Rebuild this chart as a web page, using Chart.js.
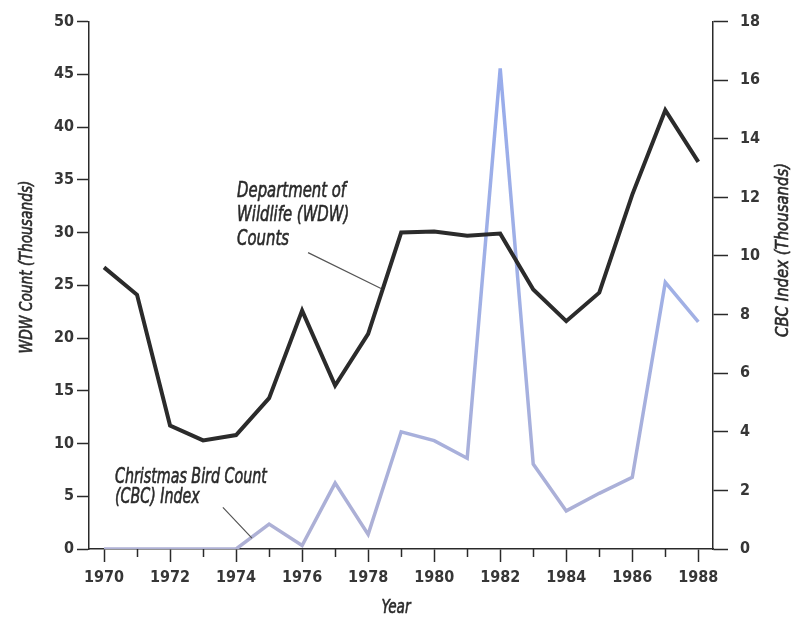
<!DOCTYPE html>
<html>
<head>
<meta charset="utf-8">
<script src="https://cdn.jsdelivr.net/npm/chart.js@4.4.1/dist/chart.umd.min.js"></script>
<style>
  html, body { margin: 0; padding: 0; background: #fff; }
  #wrap { width: 793px; height: 622px; position: relative; }
</style>
</head>
<body>
<div id="wrap"><canvas id="c"></canvas></div>
<script>
// Survey years
const years = [1970, 1971, 1972, 1973, 1974, 1975, 1976, 1977, 1978, 1979,
               1980, 1981, 1982, 1983, 1984, 1985, 1986, 1987, 1988];
// Department of Wildlife counts, thousands (left axis)
const wdwCounts = [26.7, 24.1, 11.7, 10.3, 10.8, 14.3, 22.6, 15.5, 20.4, 30.0,
                   30.1, 29.7, 29.9, 24.6, 21.6, 24.3, 33.6, 41.6, 36.7];
// Christmas Bird Count index, thousands (right axis)
const cbcIndex = [0, 0, 0, 0, 0, 0.85, 0.12, 2.25, 0.5, 4.0,
                  3.7, 3.1, 16.4, 2.9, 1.3, 1.9, 2.45, 9.1, 7.75];
// Axis tick values
const wdwTicks = [0, 5, 10, 15, 20, 25, 30, 35, 40, 45, 50];
const cbcTicks = [0, 2, 4, 6, 8, 10, 12, 14, 16, 18];
const labelledYears = [1970, 1972, 1974, 1976, 1978, 1980, 1982, 1984, 1986, 1988];

const INK = '#2a2a2a';
const NARROW = "'Noto Sans ExtraCondensed', 'Noto Sans Condensed', 'Liberation Sans Narrow', 'DejaVu Sans Condensed', 'Liberation Sans', sans-serif";
const TICK_FONT = { family: NARROW, size: 16, weight: '600' };

// Draw a line of text squeezed horizontally by factor sx, with a light
// outline to give a medium weight
function squeezedText(ctx, text, x, y, font, sx, rot) {
  ctx.save();
  ctx.font = font;
  ctx.translate(x, y);
  if (rot) ctx.rotate(rot);
  ctx.scale(sx, 1);
  ctx.fillText(text, 0, 0);
  ctx.lineWidth = 0.6;
  ctx.strokeText(text, 0, 0);
  ctx.restore();
}
function scaleFor(ctx, text, font, width) {
  ctx.save();
  ctx.font = font;
  const w = ctx.measureText(text).width;
  ctx.restore();
  return width / w;
}

// Callouts, axis titles and the short odd-year ticks
const notesPlugin = {
  id: 'notes',
  afterDraw(chart) {
    const { ctx, scales } = chart;
    const x = scales.x, yL = scales.y, yR = scales.y1;
    ctx.save();
    ctx.fillStyle = INK;
    ctx.strokeStyle = INK;

    // short ticks for odd years
    ctx.lineWidth = 1.5;
    years.filter(v => v % 2 === 1).forEach(v => {
      const px = Math.round(x.getPixelForValue(v)) + 0.5;
      ctx.beginPath();
      ctx.moveTo(px, x.top);
      ctx.lineTo(px, x.top + 8);
      ctx.stroke();
    });

    // leader lines
    ctx.strokeStyle = '#555';
    ctx.lineWidth = 1.2;
    ctx.beginPath();
    ctx.moveTo(x.getPixelForValue(1976.18), yL.getPixelForValue(28.1));
    ctx.lineTo(x.getPixelForValue(1978.39), yL.getPixelForValue(24.7));
    ctx.moveTo(x.getPixelForValue(1973.6), yR.getPixelForValue(1.42));
    ctx.lineTo(x.getPixelForValue(1974.48), yR.getPixelForValue(0.37));
    ctx.stroke();
    ctx.strokeStyle = INK;

    // callout text
    ctx.textAlign = 'left';
    ctx.textBaseline = 'alphabetic';
    const noteFont = 'italic 22px ' + NARROW;
    const wdwLines = ['Department of', 'Wildlife (WDW)', 'Counts'];
    let sx = scaleFor(ctx, wdwLines[0], noteFont, 109);
    let lx = x.getPixelForValue(1974.03), ly = yL.getPixelForValue(33.4);
    wdwLines.forEach((t, i) => squeezedText(ctx, t, lx, ly + i * 24, noteFont, sx));

    const cbcLines = ['Christmas Bird Count', '(CBC) Index'];
    sx = scaleFor(ctx, cbcLines[0], noteFont, 152);
    lx = x.getPixelForValue(1970.33); ly = yR.getPixelForValue(2.26);
    cbcLines.forEach((t, i) => squeezedText(ctx, t, lx, ly + i * 20, noteFont, sx));

    // axis titles
    ctx.textAlign = 'center';
    ctx.textBaseline = 'middle';
    const titleFont = 'italic 18px ' + NARROW;
    const tL = 'WDW Count (Thousands)';
    squeezedText(ctx, tL, 27, 267, titleFont, scaleFor(ctx, tL, titleFont, 173), -Math.PI / 2);
    const tR = 'CBC Index (Thousands)';
    squeezedText(ctx, tR, 783, 250, titleFont, scaleFor(ctx, tR, titleFont, 174), -Math.PI / 2);
    const yearFont = 'italic 20px ' + NARROW;
    squeezedText(ctx, 'Year', 396, 608, yearFont, scaleFor(ctx, 'Year', yearFont, 29));
    ctx.restore();
  }
};

const axisBorder = { color: INK, width: 1.5 };

new Chart(document.getElementById('c'), {
  type: 'line',
  data: {
    datasets: [
      {
        label: 'Department of Wildlife (WDW) Counts',
        data: years.map((yr, i) => ({ x: yr, y: wdwCounts[i] })),
        yAxisID: 'y',
        borderColor: '#2b2b2b',
        borderWidth: 4,
        borderJoinStyle: 'miter',
        pointRadius: 0,
        tension: 0,
        order: 1
      },
      {
        label: 'Christmas Bird Count (CBC) Index',
        data: years.map((yr, i) => ({ x: yr, y: cbcIndex[i] })),
        yAxisID: 'y1',
        borderColor(context) {
          const a = context.chart.chartArea;
          if (!a) return '#a6b2e2';
          const g = context.chart.ctx.createLinearGradient(0, a.bottom, 0, a.top);
          g.addColorStop(0, '#aeb0d4');
          g.addColorStop(0.5, '#a0b0e6');
          g.addColorStop(1, '#96abec');
          return g;
        },
        borderWidth: 3.5,
        borderJoinStyle: 'miter',
        pointRadius: 0,
        tension: 0,
        order: 2
      }
    ]
  },
  options: {
    responsive: true,
    maintainAspectRatio: false,
    animation: false,
    layout: { padding: { top: 16, left: 0, right: 0, bottom: 0 } },
    plugins: { legend: { display: false }, tooltip: { enabled: false } },
    scales: {
      x: {
        type: 'linear',
        position: 'bottom',
        min: 1969.545,
        max: 1988.445,
        afterBuildTicks(scale) { scale.ticks = years.map(v => ({ value: v })); },
        afterFit(scale) { scale.height = 73; },
        ticks: {
          autoSkip: false,
          maxRotation: 0,
          padding: 6,
          color: '#363636',
          font: TICK_FONT,
          callback: v => (labelledYears.includes(v) ? String(v) : '')
        },
        grid: {
          drawOnChartArea: false,
          drawTicks: true,
          tickLength: 13,
          tickWidth: 1.5,
          tickColor: c => (c.tick && c.tick.value % 2 === 1 ? 'rgba(0,0,0,0)' : INK)
        },
        border: axisBorder
      },
      y: {
        type: 'linear',
        position: 'left',
        min: 0,
        max: 50,
        afterBuildTicks(scale) { scale.ticks = wdwTicks.map(v => ({ value: v })); },
        afterFit(scale) { scale.width = 89; },
        ticks: { padding: 3, color: '#363636', font: TICK_FONT },
        grid: { drawOnChartArea: false, tickLength: 12, tickWidth: 1.5, tickColor: INK },
        border: axisBorder
      },
      y1: {
        type: 'linear',
        position: 'right',
        min: 0,
        max: 18,
        afterBuildTicks(scale) { scale.ticks = cbcTicks.map(v => ({ value: v })); },
        afterFit(scale) { scale.width = 80; },
        ticks: { padding: 12, color: '#363636', font: TICK_FONT },
        grid: { drawOnChartArea: false, tickLength: 15, tickWidth: 1.5, tickColor: INK },
        border: axisBorder
      }
    }
  },
  plugins: [notesPlugin]
});
</script>
</body>
</html>
